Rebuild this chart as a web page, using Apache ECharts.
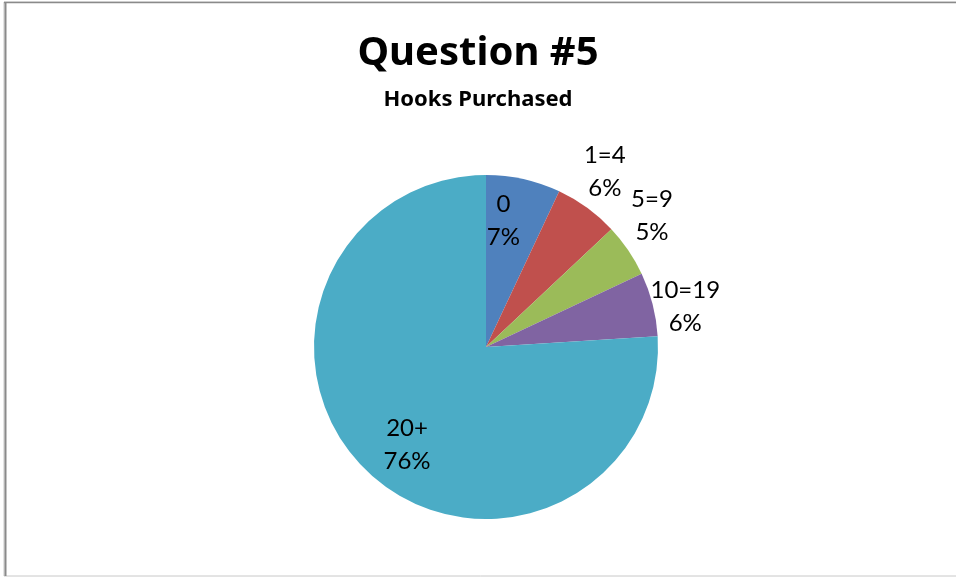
<!DOCTYPE html>
<html>
<head>
<meta charset="utf-8">
<title>Question #5</title>
<script src="https://cdn.jsdelivr.net/npm/echarts@6/dist/echarts.min.js"></script>
<style>
  html, body { margin: 0; padding: 0; background: #fff; }
  #chart { width: 956px; height: 577px; }
</style>
</head>
<body>
<div id="chart"></div>
<script>
// Survey answers: how many hooks were purchased
const categories = ['0', '1=4', '5=9', '10=19', '20+'];
const shares = [7, 6, 5, 6, 76];
const sliceColors = ['#4F81BD', '#C0504D', '#9BBB59', '#8064A2', '#4BACC6'];
// Slices whose label sits inside the pie; the rest are labelled just outside
const insideLabelled = ['0', '20+'];

const FONT = 'Lato, "Open Sans", sans-serif';
const TITLE_FONT = '"Noto Sans", "Open Sans", sans-serif';
const CENTER = [486, 347];
const RADIUS = 172;

// small nudges of each label away from the slice's mid-angle anchor
const labelNudge = {
  '0': [-11, 1],
  '1=4': [-7, -2],
  '5=9': [-11, -11],
  '10=19': [-8, 13],
  '20+': [10, 3]
};

const pieData = categories.map((name, i) => ({ name, value: shares[i] }));

const labelText = p => p.name + '\n' + Math.round(p.percent) + '%';
const labelStyle = {
  color: '#000',
  fontFamily: FONT,
  fontSize: 24,
  lineHeight: 33
};

function labelSeries(radius, inside) {
  return {
    type: 'pie',
    silent: true,
    center: CENTER,
    radius: radius,
    startAngle: 90,
    clockwise: true,
    avoidLabelOverlap: false,
    animation: false,
    itemStyle: { color: 'rgba(0,0,0,0)', borderWidth: 0 },
    emphasis: { disabled: true },
    labelLine: { show: false },
    data: categories.map((name, i) => ({
      name,
      value: shares[i],
      label: {
        show: insideLabelled.includes(name) === inside,
        position: 'inside',
        offset: labelNudge[name],
        formatter: labelText,
        ...labelStyle
      }
    }))
  };
}

const chart = echarts.init(document.getElementById('chart'), null, { renderer: 'canvas' });

chart.setOption({
  backgroundColor: '#fff',
  animation: false,
  color: sliceColors,
  title: [
    {
      text: 'Question #5',
      left: 'center',
      top: 34,
      padding: [0, 0, 0, 16],
      textStyle: { fontFamily: TITLE_FONT, fontWeight: 'bold', fontSize: 40, color: '#000' }
    },
    {
      text: 'Hooks Purchased',
      left: 'center',
      top: 89,
      padding: [0, 0, 0, 16],
      textStyle: { fontFamily: TITLE_FONT, fontWeight: 'bold', fontSize: 22, color: '#000' }
    }
  ],
  graphic: [
    // frame of the chart area
    { type: 'rect', shape: { x: 4, y: 2, width: 960, height: 574 },
      style: { fill: 'none', stroke: '#c8c8c8', lineWidth: 1 }, silent: true },
    { type: 'line', shape: { x1: 5.5, y1: 2, x2: 5.5, y2: 576 },
      style: { stroke: '#8a8a8a', lineWidth: 2 }, silent: true },
    { type: 'line', shape: { x1: 4, y1: 2.5, x2: 956, y2: 2.5 },
      style: { stroke: '#8a8a8a', lineWidth: 1.5 }, silent: true }
  ],
  series: [
    {
      type: 'pie',
      center: CENTER,
      radius: RADIUS,
      startAngle: 90,
      clockwise: true,
      animation: false,
      label: { show: false },
      labelLine: { show: false },
      emphasis: { disabled: true },
      itemStyle: { borderWidth: 0 },
      data: pieData
    },
    labelSeries([0, 254], true),
    labelSeries([RADIUS, 250], false)
  ]
});
</script>
</body>
</html>
